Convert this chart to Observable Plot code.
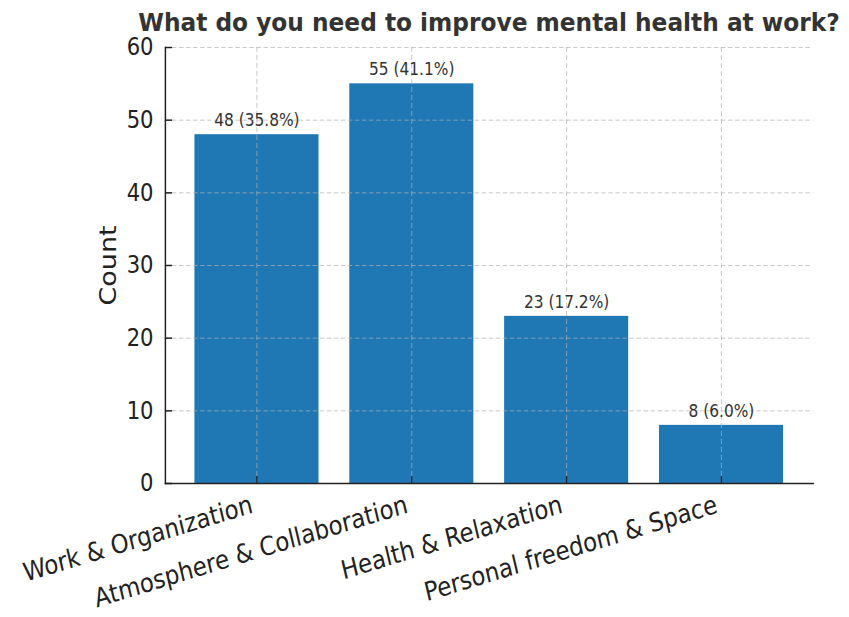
<!DOCTYPE html>
<html>
<head>
<meta charset="utf-8">
<script src="https://cdn.jsdelivr.net/npm/d3@7"></script>
<script src="https://cdn.jsdelivr.net/npm/@observablehq/plot@0.6"></script>
<style>
  html, body { margin: 0; padding: 0; background: #fff; }
  #wrap { position: relative; width: 849px; height: 617px; overflow: hidden; background: #fff; }
  #title {
    position: absolute; left: 489px; top: 8px; z-index: 2;
    transform: translateX(-50%) scaleX(0.95);
    white-space: nowrap;
    font-family: "DejaVu Sans", sans-serif;
    font-weight: bold; font-size: 24.5px; color: #333;
    line-height: 30px;
  }
  #chart { position: absolute; left: 0; top: 20px; z-index: 1; }
</style>
</head>
<body>
<div id="wrap">
  <div id="title">What do you need to improve mental health at work?</div>
  <div id="chart"></div>
</div>
<script>
// Survey answers: what people need to improve mental health at work
const categories = ["Work & Organization", "Atmosphere & Collaboration", "Health & Relaxation", "Personal freedom & Space"];
const counts = [48, 55, 23, 8];
const percents = [35.8, 41.1, 17.2, 6.0];
const yTicks = [0, 10, 20, 30, 40, 50, 60];

const data = categories.map((c, i) => ({category: c, count: counts[i], pct: percents[i]}));

// The figure is laid out on a wider canvas and then drawn narrower,
// giving the compact, condensed look of the text.
const squeeze = 0.88;
const outWidth = 849;
const W = Math.round(outWidth / squeeze);
const H = 597;

const font = "'DejaVu Sans', sans-serif";
const gridStyle = {stroke: "#b0b0b0", strokeOpacity: 0.75, strokeWidth: 1, strokeDasharray: "5,3"};

const chart = Plot.plot({
  width: W,
  height: H,
  marginLeft: 187.5,
  marginRight: 41,
  marginTop: 27,
  marginBottom: 134,
  style: {fontFamily: font, background: "transparent"},
  x: {domain: categories, paddingInner: 0.2, paddingOuter: 0.19, axis: null},
  y: {domain: [0, 60], axis: null},
  marks: [
    Plot.barY(data, {x: "category", y: "count", fill: "#1f77b4"}),
    Plot.gridX(categories, gridStyle),
    Plot.gridY(yTicks, gridStyle),
    Plot.frame({anchor: "left", stroke: "#222", strokeWidth: 1.7}),
    Plot.frame({anchor: "bottom", stroke: "#222", strokeWidth: 1.5}),
    Plot.axisY(yTicks, {
      label: null, tickSize: -8, tickPadding: 21.5, fontSize: 24,
      color: "#222", strokeWidth: 1.5, tickFormat: d => d
    }),
    Plot.axisX({label: null, tickSize: -7, tickFormat: () => "", color: "#222", strokeWidth: 1.5}),
    Plot.text(data, {
      x: "category", y: 0, text: "category",
      rotate: -15, textAnchor: "end", lineAnchor: "top",
      dx: -8, dy: 11, fontSize: 26, fill: "#222"
    }),
    Plot.text(data, {
      x: "category", y: "count",
      text: d => `${d.count} (${d.pct.toFixed(1)}%)`,
      lineAnchor: "bottom", dy: -8.5, fontSize: 17.5, fill: "#333"
    }),
    Plot.text(["Count"], {
      frameAnchor: "left", textAnchor: "middle", rotate: -90, dx: -65,
      fontSize: 27, fill: "#222"
    })
  ]
});

chart.setAttribute("width", outWidth);
chart.setAttribute("preserveAspectRatio", "none");
chart.style.width = outWidth + "px";
chart.style.maxWidth = "none";
document.getElementById("chart").appendChild(chart);
</script>
</body>
</html>
